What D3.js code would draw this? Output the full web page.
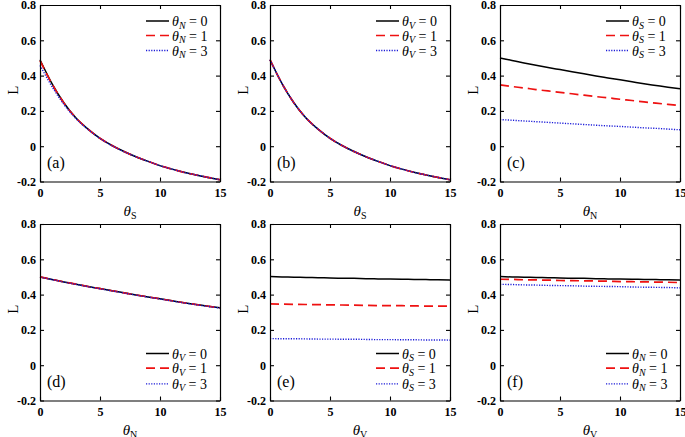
<!DOCTYPE html>
<html><head><meta charset="utf-8">
<script src="https://cdn.jsdelivr.net/npm/d3@7"></script>
<style>
body{margin:0;background:#fff}
svg{display:block}
text{font-family:"Liberation Serif","Times New Roman",serif;fill:#000}
</style>
</head><body>
<svg id="chart" width="685" height="437"></svg>
<script>
// ---- data ----
const xValues = [0,1,2,3,4,5,6,7,8,9,10,11,12,13,14,15];
const xTicks = [0,5,10,15];
const yTicks = [-0.2,0,0.2,0.4,0.6,0.8];
const legendValues = ["0","1","3"];

// (a) L vs theta_S for theta_N = 0,1,3
const aN0 = [0.490,0.355,0.245,0.160,0.097,0.045,0.004,-0.030,-0.060,-0.086,-0.110,-0.130,-0.148,-0.163,-0.177,-0.190];
const aN1 = [0.485,0.352,0.244,0.160,0.097,0.045,0.004,-0.030,-0.060,-0.086,-0.110,-0.130,-0.148,-0.163,-0.177,-0.190];
const aN3 = [0.458,0.338,0.236,0.156,0.095,0.044,0.003,-0.031,-0.060,-0.086,-0.110,-0.130,-0.148,-0.163,-0.177,-0.190];
// (b) L vs theta_S for theta_V = 0,1,3
const bV0 = [0.490,0.355,0.245,0.160,0.097,0.045,0.004,-0.030,-0.060,-0.086,-0.110,-0.130,-0.148,-0.163,-0.177,-0.190];
const bV1 = [0.490,0.355,0.245,0.160,0.097,0.045,0.004,-0.030,-0.060,-0.086,-0.110,-0.130,-0.148,-0.163,-0.177,-0.190];
const bV3 = [0.490,0.355,0.245,0.160,0.097,0.045,0.004,-0.030,-0.060,-0.086,-0.110,-0.130,-0.148,-0.163,-0.177,-0.190];
// (c) L vs theta_N for theta_S = 0,1,3
const cS0 = [0.500,0.486,0.472,0.459,0.446,0.434,0.422,0.410,0.398,0.387,0.376,0.365,0.354,0.344,0.334,0.325];
const cS1 = [0.347,0.338,0.330,0.321,0.313,0.305,0.297,0.289,0.281,0.274,0.266,0.259,0.251,0.244,0.237,0.230];
const cS3 = [0.151,0.147,0.143,0.139,0.135,0.131,0.127,0.123,0.119,0.115,0.112,0.108,0.104,0.101,0.097,0.093];
// (d) L vs theta_N for theta_V = 0,1,3
const dV0 = [0.500,0.486,0.472,0.459,0.446,0.434,0.422,0.410,0.398,0.387,0.376,0.365,0.354,0.344,0.334,0.325];
const dV1 = [0.500,0.486,0.472,0.459,0.446,0.434,0.422,0.410,0.398,0.387,0.376,0.365,0.354,0.344,0.334,0.325];
const dV3 = [0.499,0.485,0.471,0.458,0.445,0.433,0.421,0.409,0.397,0.386,0.375,0.364,0.353,0.343,0.333,0.324];
// (e) L vs theta_V for theta_S = 0,1,3
const eS0 = [0.502,0.500,0.499,0.497,0.496,0.494,0.493,0.492,0.490,0.489,0.488,0.487,0.486,0.485,0.484,0.482];
const eS1 = [0.347,0.346,0.345,0.344,0.343,0.342,0.341,0.340,0.339,0.338,0.337,0.337,0.336,0.335,0.335,0.334];
const eS3 = [0.151,0.150,0.150,0.149,0.148,0.148,0.147,0.147,0.146,0.145,0.145,0.144,0.144,0.143,0.143,0.142];
// (f) L vs theta_V for theta_N = 0,1,3
const fN0 = [0.502,0.500,0.499,0.497,0.496,0.494,0.493,0.492,0.490,0.489,0.488,0.487,0.486,0.485,0.484,0.482];
const fN1 = [0.487,0.486,0.484,0.483,0.482,0.480,0.479,0.478,0.477,0.476,0.474,0.473,0.472,0.471,0.470,0.468];
const fN3 = [0.458,0.457,0.455,0.454,0.452,0.451,0.450,0.448,0.447,0.446,0.445,0.443,0.442,0.441,0.440,0.438];

// ---- layout / styles ----
const styles = [
  {color:"#000000", dash:null, width:1.5},
  {color:"#ee1111", dash:"9,5", width:1.7},
  {color:"#1a1ad8", dash:"1.2,1.4", width:1.4}
];
const panels = [
  {id:"(a)", left:40,  top:5,   xSub:"S", legSub:"N", legPos:"top",    series:[aN0,aN1,aN3]},
  {id:"(b)", left:270, top:5,   xSub:"S", legSub:"V", legPos:"top",    series:[bV0,bV1,bV3]},
  {id:"(c)", left:500, top:5,   xSub:"N", legSub:"S", legPos:"top",    series:[cS0,cS1,cS3]},
  {id:"(d)", left:40,  top:224, xSub:"N", legSub:"V", legPos:"bottom", series:[dV0,dV1,dV3]},
  {id:"(e)", left:270, top:224, xSub:"V", legSub:"S", legPos:"bottom", series:[eS0,eS1,eS3]},
  {id:"(f)", left:500, top:224, xSub:"V", legSub:"N", legPos:"bottom", series:[fN0,fN1,fN3]}
];
const W = 180, H = 176.5;
const svg = d3.select("#chart");
const fmtY = d => d === 0 ? "0" : (d < 0 ? "-" : "") + Math.abs(d).toFixed(1);

panels.forEach(p => {
  const g = svg.append("g").attr("transform", `translate(${p.left},${p.top})`);
  const x = d3.scaleLinear().domain([0,15]).range([0,W]);
  const y = d3.scaleLinear().domain([-0.2,0.8]).range([H,0]);

  // curves
  const line = d3.line().x((d,i)=>x(xValues[i])).y(d=>y(d)).curve(d3.curveMonotoneX);
  p.series.forEach((s,k) => {
    const st = styles[k];
    g.append("path").datum(s).attr("d", line)
      .attr("fill","none").attr("stroke",st.color).attr("stroke-width",st.width)
      .attr("stroke-dasharray", st.dash);
  });

  // axes (ticks inward, mirrored)
  g.append("g").attr("transform",`translate(0,${H})`)
    .call(d3.axisBottom(x).tickValues(xTicks).tickSizeInner(-4).tickSizeOuter(0).tickPadding(7));
  g.append("g")
    .call(d3.axisLeft(y).tickValues(yTicks).tickFormat(fmtY).tickSizeInner(-4).tickSizeOuter(0).tickPadding(4));
  g.append("g").call(d3.axisTop(x).tickValues(xTicks).tickFormat("").tickSizeInner(-4).tickSizeOuter(0));
  g.append("g").attr("transform",`translate(${W},0)`)
    .call(d3.axisRight(y).tickValues(yTicks).tickFormat("").tickSizeInner(-4).tickSizeOuter(0));
  g.selectAll(".domain").attr("stroke","#000").attr("stroke-width",1.2);
  g.selectAll(".tick line").attr("stroke","#000").attr("stroke-width",1.1);
  g.selectAll(".tick text").attr("font-family","Liberation Serif, serif").attr("font-size",12)
    .attr("font-weight","bold").attr("fill","#111");

  // y label
  g.append("text").attr("transform",`translate(${-27},${H/2-3}) rotate(-90)`)
    .attr("text-anchor","middle").attr("dy","0.35em").attr("font-size",15).text("L");

  // x label
  const xl = g.append("text").attr("x",W/2).attr("y",H+34).attr("text-anchor","middle").attr("font-size",15);
  xl.append("tspan").attr("font-style","italic").text("θ");
  xl.append("tspan").attr("font-size",10).attr("dy",3).text(p.xSub);

  // panel id
  g.append("text").attr("x",7).attr("y",H-14).attr("font-size",16).text(p.id);

  // legend
  const rows = p.legPos === "top" ? [16,30.5,45.5] : [H-47,H-32.3,H-16.6];
  rows.forEach((ry,k) => {
    const st = styles[k];
    g.append("line").attr("x1",W-74).attr("x2",W-51).attr("y1",ry).attr("y2",ry)
      .attr("stroke",st.color).attr("stroke-width",st.width).attr("stroke-dasharray",st.dash);
    const t = g.append("text").attr("x",W-48).attr("y",ry+5).attr("font-size",14);
    t.append("tspan").attr("font-style","italic").text("θ");
    t.append("tspan").attr("font-style","italic").attr("font-size",10).attr("dy",2.5).text(p.legSub);
    t.append("tspan").attr("dy",-2.5).text(" = " + legendValues[k]);
  });
});
</script>
</body></html>
